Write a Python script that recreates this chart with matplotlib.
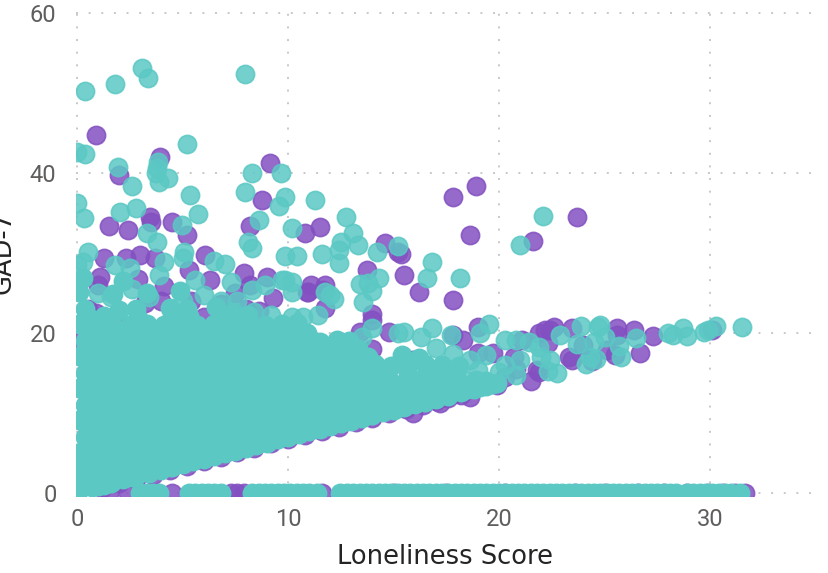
import matplotlib
matplotlib.use('Agg')
import matplotlib.pyplot as plt

# purple series, scattered points first, then the band along the lower edge
purple_x = [0.9, 3.93, 2.0, 9.15, 8.77, 18.9, 17.8, 18.6, 21.6, 23.7, 1.5, 3.46, 3.5, 2.4, 4.5, 5.2, 8.2,
            10.8, 11.5, 14.6, 15.2, 15.35, 15.5, 16.2, 17.8, 13.75, 14.0, 11.75, 11.1, 10.95, 11.66,
            9.0, 6.07, 3.0, 3.7, 2.3, 1.3, 5.3, 7.5, 8.2,
            22.6, 23.45, 25.6, 26.4, 27.3, 26.7, 25.5, 23.3, 23.45, 21.9, 22.2, 30.1, 25.6, 25.1, 22.3,
            19.7, 21.8, 20.7, 22.4, 21.9, 21.1, 17.8, 18.3, 19.0, 14.8, 13.4, 14.0, 11.75, 10.9, 10.1,
            19.0, 17.2, 18.0, 18.6, 19.9, 21.5, 15.9, 15.9, 24.4, 24.0, 20.3, 20.8,
            1.2, 2.0, 2.8, 3.6, 4.4, 5.2, 6.0, 6.8, 7.6, 8.4, 9.2, 10.0, 10.8, 11.6, 12.4, 13.2, 14.0, 14.8,
            15.6, 16.4, 17.0, 17.6, 18.2, 0.2, 0.5, 1.0, 0.8, 2.0, 6.0, 4.0, 8.0, 12.0, 16.0, 10.0, 14.0,
            1.1, 2.9, 4.1, 6.3, 7.9, 5.4, 3.2, 0.9, 6.8, 9.3, 8.6]
purple_y = [44.75, 42.0, 39.75, 41.25, 36.6, 38.4, 37.0, 32.25, 31.5, 34.5, 33.4, 34.5, 33.9, 32.9, 33.9, 32.25, 33.4,
            32.5, 33.25, 31.25, 30.1, 29.9, 27.25, 25.1, 24.1, 27.9, 22.4, 26.0, 26.0, 25.1, 25.4,
            27.0, 29.75, 29.75, 29.4, 29.4, 29.4, 27.9, 25.0, 26.0,
            20.75, 20.6, 20.6, 20.4, 19.6, 17.5, 17.25, 17.0, 16.6, 15.1, 20.4, 20.4, 19.75, 17.9, 18.75,
            17.5, 15.4, 17.0, 20.4, 20.0, 19.1, 19.75, 19.1, 20.75, 20.1, 20.1, 21.6, 23.1, 25.1, 18.75,
            17.5, 11.25, 12.5, 12.0, 13.5, 14.0, 10.0, 16.6, 16.5, 18.5, 14.5, 15.5,
            0.6, 1.2, 1.7, 2.3, 2.9, 3.4, 4.0, 4.5, 5.1, 5.6, 6.2, 6.7, 7.2, 7.8, 8.3, 8.9, 9.4, 10.0,
            10.5, 11.0, 11.5, 11.9, 12.3, 19.0, 23.0, 26.0, 15.0, 21.0, 22.0, 24.0, 23.0, 14.0, 14.0, 10.0, 18.0,
            27.0, 26.8, 25.9, 26.6, 27.5, 24.0, 23.7, 22.5, 23.6, 24.4, 22.8]

# purple points sitting on the zero line
purple_zero_x = [1.5, 2.4, 4.5, 7.3, 7.6, 7.9, 11.6, 15.0, 17.5, 20.3, 23.6, 25.0, 26.6, 27.8, 28.9, 29.9, 30.6, 31.2, 31.65]
purple_zero_y = [0] * len(purple_zero_x)

# teal series, scattered points
teal_x = [0.38, 1.8, 3.08, 3.36, 7.96, 0.0, 0.38, 5.2, 3.84, 3.8, 3.74, 4.3, 3.9, 1.95, 2.6, 0.0, 5.36, 7.96,
          8.3, 9.67, 9.85, 9.57, 11.3, 0.33, 2.04, 2.8, 5.73, 4.98, 8.6, 12.75, 10.2, 8.1, 8.3, 13.1, 12.5, 13.3,
          12.4, 14.2, 15.2, 11.6, 12.4, 9.86, 10.4, 16.8, 16.6, 18.15, 14.3, 13.4, 13.8, 14.0, 13.55, 22.1, 21.0,
          11.75, 12.2, 12.0, 9.86, 10.2, 11.4, 10.2, 10.7, 16.8, 17.7, 19.5, 19.1, 14.0, 13.5, 15.2, 15.5, 16.3, 17.0,
          0.52, 3.3, 3.8, 5.07, 5.0, 4.1, 6.5, 7.0, 7.3, 0.0, 0.3, 1.8, 2.5, 3.9, 5.6, 8.3, 9.7, 10.2, 8.9,
          1.0, 1.6, 2.6, 3.4, 5.0, 6.0, 6.8, 7.6, 8.4, 9.2]
teal_y = [50.25, 51.1, 53.1, 51.9, 52.4, 42.6, 42.4, 43.6, 41.4, 40.6, 40.0, 39.4, 38.9, 40.75, 38.4, 36.25, 37.2, 37.6,
          40.0, 40.0, 37.0, 35.9, 36.6, 34.4, 35.1, 35.6, 34.9, 33.5, 34.1, 34.5, 33.1, 31.4, 30.6, 32.5, 31.4, 31.0,
          30.4, 30.1, 30.9, 29.9, 28.8, 29.6, 29.6, 28.9, 26.9, 26.9, 26.9, 26.1, 26.2, 25.3, 23.9, 34.6, 31.0,
          25.1, 24.2, 24.7, 26.6, 25.1, 22.2, 22.0, 22.0, 20.6, 19.75, 21.1, 20.0, 20.6, 19.5, 20.0, 20.1, 19.5, 18.1,
          30.1, 32.5, 31.4, 30.1, 29.4, 28.9, 29.0, 28.6, 26.4, 28.5, 28.9, 28.5, 28.1, 27.2, 26.6, 25.4, 26.6, 26.4, 26.0,
          25.0, 24.5, 25.5, 24.5, 24.0, 24.8, 24.0, 24.0, 22.6, 22.3]

# teal band running out to the right
teal_band_x = [22.9, 23.9, 24.8, 24.7, 25.0, 24.5, 23.7, 25.7, 26.5, 25.8, 24.6, 24.1, 24.3, 22.75, 22.4, 22.0,
               28.0, 28.25, 28.7, 28.9, 29.7, 29.9, 30.3, 31.5, 20.3, 20.8, 21.4, 21.9, 21.0, 20.3, 20.0, 20.8,
               19.7, 19.1, 22.3, 19.0, 18.3, 17.6, 19.4, 18.6, 17.8]
teal_band_y = [19.75, 20.9, 21.0, 20.7, 19.5, 18.9, 18.6, 18.4, 19.4, 17.0, 16.75, 16.1, 17.0, 15.0, 16.6, 17.0,
               20.0, 19.75, 20.6, 19.6, 20.1, 20.4, 20.9, 20.8, 19.1, 19.1, 18.9, 18.25, 16.6, 16.0, 15.1, 14.75,
               13.6, 13.25, 15.2, 15.4, 14.2, 13.4, 17.2, 16.6, 17.4]

# teal chain along the lower edge of the blob
edge_x = [1.0, 1.6, 2.2, 2.8, 3.4, 4.0, 4.5, 5.0, 5.5, 6.0, 6.5, 7.0, 7.5, 8.0, 8.5, 9.0, 9.5, 10.0, 10.5, 11.0, 11.5,
          12.0, 12.5, 13.0, 13.5, 14.0, 14.5, 15.0, 15.5, 16.0, 16.5, 17.0, 17.6, 18.2, 18.8, 19.4, 19.9]
edge_y = [0.9, 1.3, 1.7, 2.1, 2.5, 2.9, 3.3, 3.6, 4.0, 4.3, 4.6, 5.0, 5.3, 5.6, 6.0, 6.3, 6.7, 7.0, 7.4, 7.7, 8.0,
          8.4, 8.7, 9.0, 9.4, 9.7, 10.1, 10.4, 10.8, 11.1, 11.4, 11.8, 12.1, 12.6, 13.0, 13.4, 13.7]

# teal block that fills the dense part, one line per level
block_x = [0.1, 0.7, 1.3, 0.4, 1.0, 0.0,
           0.3, 1.1, 1.9, 2.7, 3.6,
           0.1, 0.9, 1.7, 2.5, 3.3, 4.1, 4.9, 5.7, 6.6,
           0.4, 1.2, 2.0, 2.8, 3.6, 4.4, 5.2, 6.0, 6.8, 7.6, 8.4, 9.2, 9.9,
           0.1, 0.9, 1.7, 2.5, 3.3, 4.1, 4.9, 5.7, 6.5, 7.3, 8.1, 8.9, 9.7, 10.5, 11.3, 12.2, 12.9,
           0.4, 1.2, 2.0, 2.8, 3.6, 4.4, 5.2, 6.0, 6.8, 7.6, 8.4, 9.2, 10.0, 10.8, 11.6, 12.4, 13.2, 14.0, 14.8, 15.6,
           0.1, 0.9, 1.7, 2.5, 3.3, 4.1, 4.9, 5.7, 6.5, 7.3, 8.1, 8.9, 9.7, 10.5, 11.3, 12.1, 12.9, 13.7, 14.5, 15.3, 16.1, 16.9, 17.7, 18.5,
           0.4, 1.2, 2.0, 2.8, 3.6, 4.4, 5.2, 6.0, 6.8, 7.6, 8.4, 9.2, 10.0, 10.8, 11.6, 12.4, 13.2, 14.0, 14.7, 15.7, 16.6, 17.4,
           0.1, 0.9, 1.7, 2.5, 3.3, 4.1, 4.9, 5.7, 6.5, 7.3, 8.1, 8.9, 9.7, 10.5, 11.3, 12.1, 12.9, 13.8, 15.4, 16.2,
           0.4, 1.2, 2.0, 2.8, 3.6, 4.4, 5.2, 6.0, 6.8, 7.6, 8.4, 9.2, 10.0, 10.8, 11.5, 12.3, 12.9,
           0.1, 0.9, 1.7, 2.5, 3.3, 4.1, 4.9, 5.7, 6.5, 7.3, 8.1, 8.9, 9.7, 10.4,
           0.4, 2.0, 2.8, 4.4, 5.2, 6.6, 7.4,
           0.1, 1.7, 3.3, 4.9,
           0.3, 2.2]
block_y = [0.4, 0.8, 1.0, 2.0, 2.2, 1.2,
           3.0, 3.2, 2.9, 3.1, 3.3,
           5.0, 5.1, 4.9, 5.2, 5.0, 5.1, 4.9, 5.0, 5.2,
           7.0, 6.9, 7.2, 7.0, 7.1, 6.9, 7.0, 7.2, 7.0, 6.9, 7.1, 7.0, 7.3,
           9.1, 9.0, 8.9, 9.1, 9.0, 9.2, 9.0, 8.9, 9.1, 9.0, 9.1, 8.9, 9.0, 9.1, 9.0, 9.1, 9.2,
           11.0, 11.1, 10.9, 11.0, 11.2, 11.0, 10.9, 11.1, 11.0, 11.0, 11.1, 10.9, 11.0, 11.1, 11.0, 10.9, 11.0, 11.1, 11.0, 11.2,
           13.1, 13.0, 12.9, 13.1, 13.0, 13.1, 13.0, 12.9, 13.1, 13.0, 13.1, 13.0, 12.9, 13.0, 13.1, 13.0, 13.0, 12.9, 13.0, 13.1, 12.9, 13.0, 13.1, 13.0,
           15.0, 15.1, 14.9, 15.0, 15.1, 15.0, 14.9, 15.0, 15.1, 15.0, 14.9, 15.1, 15.0, 15.0, 15.1, 14.9, 15.0, 15.1, 15.0, 14.9, 15.0, 15.1,
           17.1, 17.0, 16.9, 17.0, 17.1, 17.0, 16.9, 17.1, 17.0, 16.9, 17.0, 17.1, 17.0, 17.0, 16.9, 17.0, 17.1, 17.0, 17.2, 16.9,
           19.0, 19.1, 18.9, 19.0, 19.1, 19.0, 18.9, 19.0, 19.1, 18.9, 19.0, 19.1, 19.0, 19.0, 18.9, 19.1, 19.0,
           21.1, 21.0, 20.9, 21.0, 21.1, 21.0, 20.9, 21.0, 21.1, 21.0, 20.9, 21.0, 21.1, 21.2,
           23.0, 22.9, 23.0, 23.1, 23.0, 23.2, 22.6,
           25.1, 24.9, 25.0, 25.2,
           26.9, 26.5]

# second teal block on the levels in between
block2_x = [0.5, 1.3, 2.1, 2.6,
            0.5, 1.3, 2.1, 2.9, 3.7, 4.5, 5.2,
            0.5, 1.3, 2.1, 2.9, 3.7, 4.5, 5.3, 6.1, 6.9, 7.7, 8.3,
            0.5, 1.3, 2.1, 2.9, 3.7, 4.5, 5.3, 6.1, 6.9, 7.7, 8.5, 9.3, 10.1, 10.9, 11.3,
            0.5, 1.3, 2.1, 2.9, 3.7, 4.5, 5.3, 6.1, 6.9, 7.7, 8.5, 9.3, 10.1, 10.9, 11.7, 12.5, 13.3, 14.0,
            0.5, 1.3, 2.1, 2.9, 3.7, 4.5, 5.3, 6.1, 6.9, 7.7, 8.5, 9.3, 10.1, 10.9, 11.7, 12.5, 13.3, 14.1, 14.9, 15.7, 16.5, 17.1,
            0.5, 1.3, 2.1, 2.9, 3.7, 4.5, 5.3, 6.1, 6.9, 7.7, 8.5, 9.3, 10.1, 10.9, 11.7, 12.5, 13.3, 14.1, 14.9, 15.7, 16.5, 17.3, 18.1, 18.9, 19.4,
            0.5, 1.3, 2.1, 2.9, 3.7, 4.5, 5.3, 6.1, 6.9, 7.7, 8.5, 9.3, 10.1, 10.9, 11.7, 12.5, 13.3, 14.1, 14.9, 15.7, 16.5, 17.3, 18.1,
            0.5, 1.3, 2.1, 2.9, 3.7, 4.5, 5.3, 6.1, 6.9, 7.7, 8.5, 9.3, 10.1, 10.9, 11.7, 12.5, 13.3,
            0.5, 1.3, 2.1, 2.9, 3.7, 4.5, 5.3, 6.1, 6.9, 7.7, 8.5, 9.3, 10.1, 10.9,
            0.5, 1.3, 2.9, 4.5, 5.3, 6.9, 8.1]
block2_y = [2.0, 2.1, 1.9, 2.0,
            4.0, 4.1, 3.9, 4.0, 4.1, 4.0, 4.2,
            6.0, 6.1, 5.9, 6.0, 6.1, 6.0, 5.9, 6.1, 6.0, 6.1, 6.2,
            8.0, 8.1, 7.9, 8.0, 8.1, 8.0, 7.9, 8.1, 8.0, 8.1, 7.9, 8.0, 8.1, 8.0, 8.2,
            10.0, 10.1, 9.9, 10.0, 10.1, 10.0, 9.9, 10.1, 10.0, 10.1, 9.9, 10.0, 10.1, 10.0, 9.9, 10.1, 10.0, 10.2,
            12.0, 12.1, 11.9, 12.0, 12.1, 12.0, 11.9, 12.1, 12.0, 12.1, 11.9, 12.0, 12.1, 12.0, 11.9, 12.1, 12.0, 12.1, 11.9, 12.0, 12.1, 12.2,
            14.0, 14.1, 13.9, 14.0, 14.1, 14.0, 13.9, 14.1, 14.0, 14.1, 13.9, 14.0, 14.1, 14.0, 13.9, 14.1, 14.0, 14.1, 13.9, 14.0, 14.1, 14.0, 13.9, 14.1, 14.0,
            16.0, 16.1, 15.9, 16.0, 16.1, 16.0, 15.9, 16.1, 16.0, 16.1, 15.9, 16.0, 16.1, 16.0, 15.9, 16.1, 16.0, 16.1, 15.9, 16.0, 16.1, 16.0, 15.9,
            18.0, 18.1, 17.9, 18.0, 18.1, 18.0, 17.9, 18.1, 18.0, 18.1, 17.9, 18.0, 18.1, 18.0, 17.9, 18.1, 18.0,
            20.0, 20.1, 19.9, 20.0, 20.1, 20.0, 19.9, 20.1, 20.0, 20.1, 19.9, 20.0, 20.1, 20.0,
            22.0, 22.1, 21.9, 22.0, 22.1, 22.0, 22.3]

# teal points sitting on the zero line
teal_zero_x = [3.0, 3.3, 3.6, 3.9, 5.3, 5.6, 5.9, 6.2, 6.5, 6.8,
               8.3, 8.6, 8.9, 9.2, 9.5, 9.8, 10.1, 10.4, 10.7, 11.0, 11.35,
               12.45, 12.8, 13.1, 13.4, 13.7, 14.0, 14.3, 14.6, 14.9, 15.2, 15.5, 15.8, 16.1, 16.4, 16.7, 17.0, 17.3, 17.6,
               17.9, 18.2, 18.5, 18.8, 19.1, 19.4, 19.7, 20.0, 20.3, 20.6, 20.9, 21.2, 21.5, 21.8, 22.1, 22.4, 22.7, 23.0,
               23.3, 23.6, 23.9, 24.2, 24.5, 24.8, 25.1, 25.4, 25.7, 26.0, 26.3, 26.6, 26.9, 27.2, 27.5, 27.8, 28.1, 28.4,
               28.9, 29.2, 29.5, 29.8, 30.1, 30.4, 30.7, 31.0, 31.4]
teal_zero_y = [0] * len(teal_zero_x)

x_ticks = [0, 10, 20, 30]
y_ticks = [0, 20, 40, 60]

purple = '#8350C1'
teal = '#5BC8C4'

plt.rcParams['font.family'] = ['Roboto', 'DejaVu Sans']

fig = plt.figure(figsize=(8.29, 5.73), dpi=100)
ax = fig.add_axes([76 / 829, (573 - 496) / 573, (812 - 76) / 829, (496 - 11) / 573])

# same style for both series, purple goes underneath
style = dict(s=172, alpha=0.85, linewidths=1.2, zorder=3)
ax.scatter(purple_x + purple_zero_x, purple_y + purple_zero_y, color=purple, **style)
# dense part is many layers in the original so it reads as a flat colour
ax.scatter(edge_x + block_x + block2_x + teal_zero_x, edge_y + block_y + block2_y + teal_zero_y,
           color=teal, s=172, linewidths=1.2, zorder=3)
ax.scatter(teal_x + teal_band_x, teal_y + teal_band_y, color=teal, **style)

ax.set_xlim(-0.05, 34.83)
ax.set_ylim(-0.375, 60.25)
ax.set_xticks(x_ticks)
ax.set_yticks(y_ticks)
ax.set_axisbelow(True)
ax.grid(True, color='#C8C8C8', linewidth=1.4, linestyle=(0, (1, 5.5)))
for side in ax.spines:
    ax.spines[side].set_visible(False)
ax.tick_params(axis='x', length=0, labelsize=17, labelcolor='#605E5C', pad=9)
ax.tick_params(axis='y', length=0, labelsize=17, labelcolor='#605E5C', pad=14)

fig.text(445 / 829, 1 - 557 / 573, 'Loneliness Score', fontsize=18.5, color='#252423',
         family=['DejaVu Sans'], ha='center', va='center')
fig.text(4 / 829, 1 - 252 / 573, 'GAD-7', rotation=90, fontsize=18.5, color='#252423',
         family=['DejaVu Sans'], ha='center', va='center')

fig.savefig('out.png', dpi=100)
